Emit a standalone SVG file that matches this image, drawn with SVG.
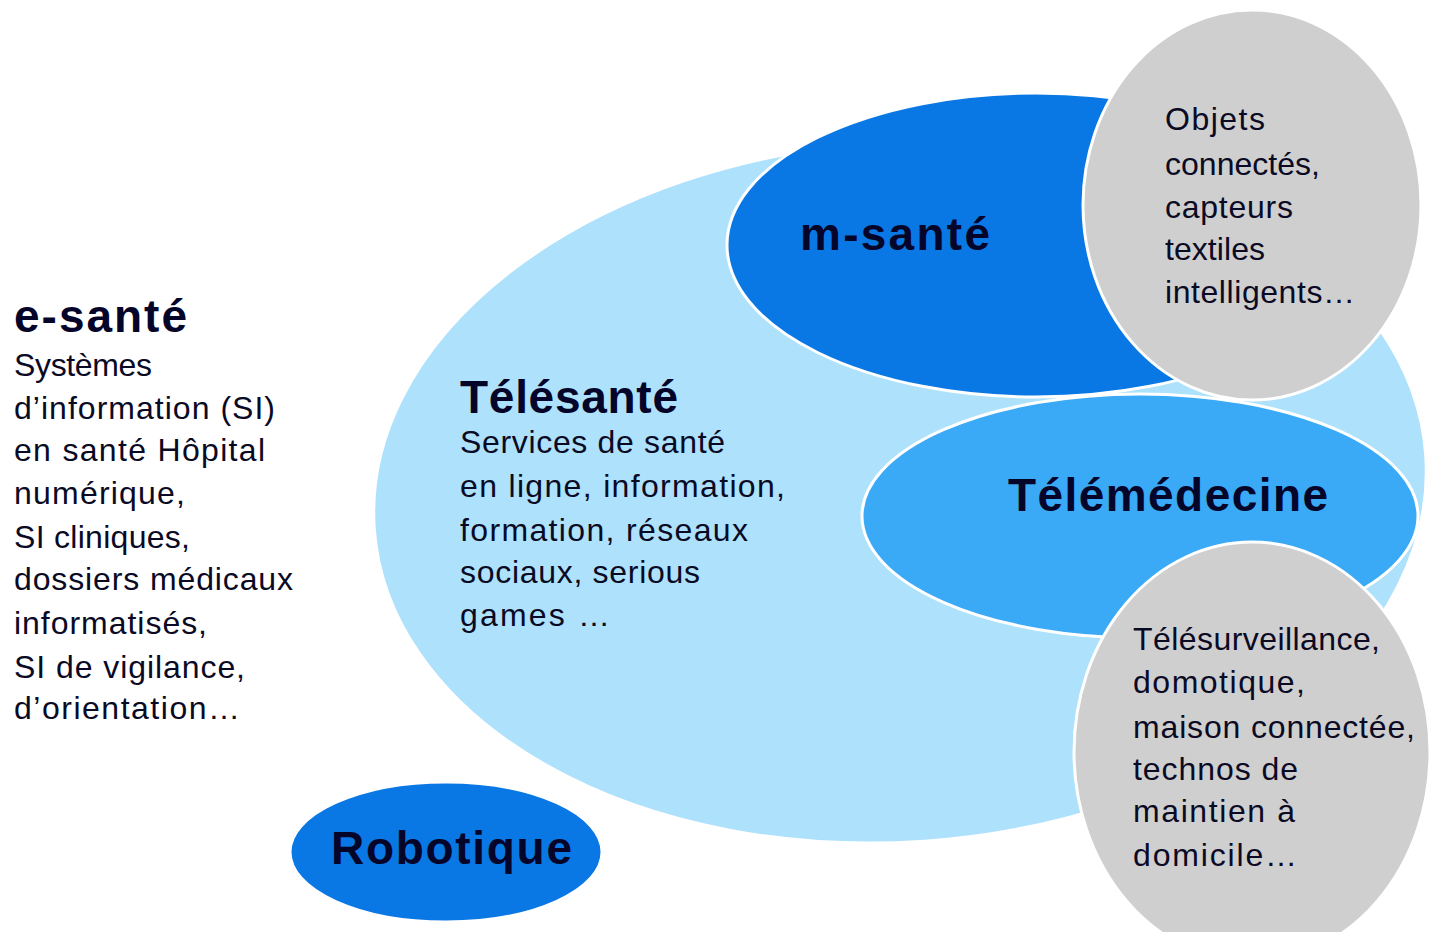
<svg xmlns="http://www.w3.org/2000/svg" width="1430" height="932" viewBox="0 0 1430 932">
<style>
.sh{stroke:#ffffff;stroke-width:3}
.lb{fill:#aee1fb}
.db{fill:#0a78e4}
.mb{fill:#3aa9f6}
.gr{fill:#d0cfcf}
.t{font-family:"Liberation Sans",Arial,sans-serif;font-size:32px;fill:#0a0a24}
.h{font-family:"Liberation Sans",Arial,sans-serif;font-weight:bold;font-size:46px;fill:#05052a}
</style>
<rect width="1430" height="932" fill="#ffffff"/>
<g id="esante">
<text class="h" x="14" y="332" textLength="173">e-santé</text>
<text class="t" x="14" y="376" textLength="138">Systèmes</text>
<text class="t" x="14" y="419" textLength="261">d’information (SI)</text>
<text class="t" x="14" y="461" textLength="251">en santé Hôpital</text>
<text class="t" x="14" y="504" textLength="171">numérique,</text>
<text class="t" x="14" y="548" textLength="176">SI cliniques,</text>
<text class="t" x="14" y="590" textLength="279">dossiers médicaux</text>
<text class="t" x="14" y="634" textLength="193">informatisés,</text>
<text class="t" x="14" y="678" textLength="231">SI de vigilance,</text>
<text class="t" x="14" y="719" textLength="226">d’orientation…</text>
</g>
<g id="telesante">
<ellipse class="sh lb" cx="900" cy="492" rx="527" ry="350" transform="rotate(-4 900 492)"/>
<text class="h" x="460" y="413" textLength="218">Télésanté</text>
<text class="t" x="460" y="453" textLength="265">Services de santé</text>
<text class="t" x="460" y="497" textLength="325">en ligne, information,</text>
<text class="t" x="460" y="541" textLength="288">formation, réseaux</text>
<text class="t" x="460" y="583" textLength="240">sociaux, serious</text>
<text class="t" x="460" y="626" textLength="150">games …</text>
</g>
<g id="telemedecine">
<ellipse class="sh mb" cx="1140" cy="516" rx="278" ry="122"/>
<text class="h" x="1008" y="511" textLength="320">Télémédecine</text>
</g>
<g id="msante">
<ellipse class="sh db" cx="1036" cy="245" rx="309" ry="152"/>
<text class="h" x="800" y="250" textLength="190">m-santé</text>
</g>
<g id="objets">
<ellipse class="sh gr" cx="1252" cy="205" rx="169" ry="195"/>
<text class="t" x="1165" y="130" textLength="100">Objets</text>
<text class="t" x="1165" y="175" textLength="155">connectés,</text>
<text class="t" x="1165" y="218" textLength="128">capteurs</text>
<text class="t" x="1165" y="260" textLength="100">textiles</text>
<text class="t" x="1165" y="303" textLength="190">intelligents…</text>
</g>
<g id="telesurveillance">
<ellipse class="sh gr" cx="1252" cy="752" rx="178" ry="210"/>
<text class="t" x="1133" y="650" textLength="247">Télésurveillance,</text>
<text class="t" x="1133" y="693" textLength="172">domotique,</text>
<text class="t" x="1133" y="738" textLength="282">maison connectée,</text>
<text class="t" x="1133" y="780" textLength="165">technos de</text>
<text class="t" x="1133" y="822" textLength="162">maintien à</text>
<text class="t" x="1133" y="866" textLength="164">domicile…</text>
</g>
<g id="robotique">
<ellipse class="sh db" cx="446" cy="852" rx="156" ry="70"/>
<text class="h" x="331" y="864" textLength="241">Robotique</text>
</g>
<g id="connectors"></g>
</svg>
